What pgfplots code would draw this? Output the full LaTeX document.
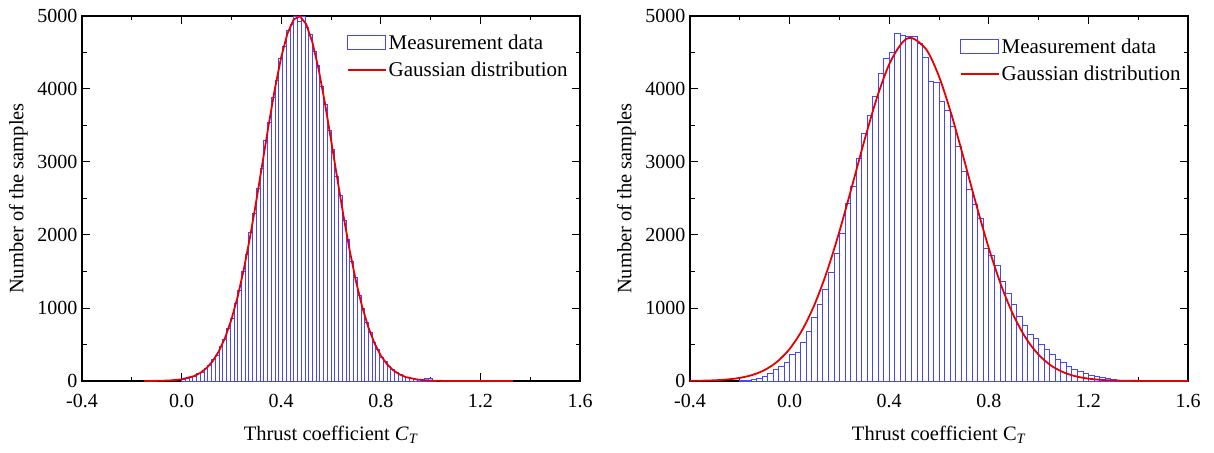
\documentclass[border=0pt]{standalone}
\usepackage{fontspec}
\setmainfont{Liberation Serif}
\usepackage{pgfplots}
\pgfplotsset{compat=1.18}
\definecolor{barblue}{RGB}{70,70,255}
\definecolor{curvered}{RGB}{230,0,0}
\pgfplotsset{
  myaxis/.style={
    scale only axis, width=498pt, height=365pt,
    xmin=-0.4, xmax=1.6, ymin=0, ymax=5000,
    xtick={-0.4,0,0.4,0.8,1.2,1.6},
    xticklabels={-0.4,0.0,0.4,0.8,1.2,1.6},
    minor xtick={-0.2,0.2,0.6,1.0,1.4},
    ytick={0,1000,2000,3000,4000,5000},
    yticklabels={0,1000,2000,3000,4000,5000},
    minor ytick={500,1500,2500,3500,4500},
    tick align=inside, xtick pos=both, ytick pos=both,
    major tick length=8pt, minor tick length=4.5pt,
    every tick/.style={black, line width=1pt},
    axis line style={line width=1.2pt},
    tick label style={font=\fontsize{20}{24}\selectfont},
    xticklabel style={yshift=-10pt},
    yticklabel style={xshift=-1pt},
    ylabel={Number of the samples},
    every axis y label/.style={at={(axis description cs:-0.128,0.5)}, rotate=90, anchor=center, font=\fontsize{20.5}{24}\selectfont},
    every axis x label/.style={at={(axis description cs:0.5,-0.148)}, anchor=center, font=\fontsize{20.5}{24}\selectfont},
    legend style={draw=none, fill=none, font=\fontsize{21}{25}\selectfont, anchor=north west, row sep=7pt},
    legend cell align=left,
  },
  boxlegend/.style={legend image code/.code={\draw[##1] (0pt,-7pt) rectangle (38pt,7pt);}},
  linelegend/.style={legend image code/.code={\draw[##1] (0pt,0pt) -- (38pt,0pt);}},
}
\begin{document}
\begin{tikzpicture}
\useasboundingbox (0,0) rectangle (1214pt,452pt);
% ---------------- left panel ----------------
\begin{axis}[myaxis, at={(82pt,71pt)}, anchor=south west,
  xlabel={Thrust coefficient \textit{C}\textsubscript{\textit{T}}},
  legend style={at={(axis description cs:0.525,0.96)}}]
\addlegendimage{boxlegend, draw=barblue, fill=white, line width=1.2pt}
\addlegendentry{Measurement data}
\addlegendimage{linelegend, draw=curvered, line width=2pt}
\addlegendentry{Gaussian distribution}
\addplot[ybar interval, draw=barblue, fill=white, line width=0.7pt, forget plot] coordinates {
(0.000,20) (0.015,35) (0.030,55) (0.045,68) (0.060,98) (0.075,124) (0.090,172) (0.105,215)
(0.120,290) (0.135,356) (0.150,468) (0.165,566) (0.180,722) (0.195,858) (0.210,1068) (0.225,1246)
(0.240,1505) (0.255,1730) (0.270,2040) (0.285,2295) (0.300,2640) (0.315,2915) (0.330,3290) (0.345,3540)
(0.360,3890) (0.375,4120) (0.390,4420) (0.405,4590) (0.420,4800) (0.435,4890) (0.450,5000) (0.465,4930)
(0.480,4990) (0.495,4850) (0.510,4750) (0.525,4520) (0.540,4330) (0.555,4030) (0.570,3790) (0.585,3440)
(0.600,3170) (0.615,2810) (0.630,2540) (0.645,2195) (0.660,1945) (0.675,1640) (0.690,1425) (0.705,1175)
(0.720,998) (0.735,805) (0.750,672) (0.765,528) (0.780,432) (0.795,330) (0.810,266) (0.825,196)
(0.840,157) (0.855,112) (0.870,90) (0.885,62) (0.900,48) (0.915,33) (0.930,26) (0.945,18)
(0.960,14) (0.975,35) (0.990,30) (1.005,10) (1.020,0)
};
\addplot[curvered, line width=1.8pt, forget plot] coordinates {
(-0.15,0.4) (-0.10,1.8) (-0.05,6.7) (0.00,22.5) (0.05,67) (0.075,110) (0.10,176) (0.125,272)
(0.15,409) (0.175,596) (0.20,841) (0.225,1152) (0.25,1531) (0.275,1974) (0.30,2467) (0.325,2990)
(0.35,3516) (0.375,4010) (0.40,4435) (0.425,4758) (0.45,4951) (0.475,4997) (0.50,4891) (0.525,4643)
(0.55,4275) (0.575,3818) (0.60,3307) (0.625,2779) (0.65,2264) (0.675,1789) (0.70,1371) (0.725,1020)
(0.75,735) (0.775,514) (0.80,349) (0.825,229) (0.85,146) (0.875,91) (0.90,54) (0.95,17.9)
(1.00,5.2) (1.05,1.3) (1.10,0.3) (1.20,0) (1.33,0)
};
\end{axis}
% ---------------- right panel ----------------
\begin{axis}[myaxis, at={(690pt,71pt)}, anchor=south west,
  xlabel={Thrust coefficient C\textsubscript{\textit{T}}},
  legend style={at={(axis description cs:0.535,0.95)}}]
\addlegendimage{boxlegend, draw=barblue, fill=white, line width=1.2pt}
\addlegendentry{Measurement data}
\addlegendimage{linelegend, draw=curvered, line width=2pt}
\addlegendentry{Gaussian distribution}
\addplot[ybar interval, draw=barblue, fill=white, line width=0.7pt, forget plot] coordinates {
(-0.2000,10) (-0.1778,15) (-0.1556,25) (-0.1333,40) (-0.1111,60) (-0.0889,110) (-0.0667,160) (-0.0444,200)
(-0.0222,260) (0.0000,365) (0.0222,390) (0.0444,533) (0.0667,683) (0.0889,866) (0.1111,1044) (0.1333,1262)
(0.1556,1489) (0.1778,1744) (0.2000,2027) (0.2222,2437) (0.2444,2664) (0.2667,3051) (0.2889,3393) (0.3111,3643)
(0.3333,3903) (0.3556,4213) (0.3778,4418) (0.4000,4508) (0.4222,4759) (0.4444,4736) (0.4667,4722) (0.4889,4722)
(0.5111,4631) (0.5333,4440) (0.5556,4098) (0.5778,4085) (0.6000,3825) (0.6222,3711) (0.6444,3483) (0.6667,3210)
(0.6889,2869) (0.7111,2619) (0.7333,2414) (0.7556,2232) (0.7778,1822) (0.8000,1717) (0.8222,1580) (0.8444,1366)
(0.8667,1207) (0.8889,1050) (0.9111,890) (0.9333,760) (0.9556,640) (0.9778,590) (1.0000,500) (1.0222,440)
(1.0444,370) (1.0667,300) (1.0889,250) (1.1111,200) (1.1333,160) (1.1556,130) (1.1778,110) (1.2000,80)
(1.2222,60) (1.2444,45) (1.2667,30) (1.2889,22) (1.3111,15) (1.3333,10) (1.3556,5) (1.3778,0)
};
\addplot[curvered, line width=1.8pt, smooth, forget plot] coordinates {
(-0.40,1.9) (-0.35,4.4) (-0.30,9.9) (-0.25,21.1) (-0.20,42.7) (-0.15,82.3) (-0.10,151) (-0.05,264)
(0.00,439) (0.05,695) (0.10,1046) (0.15,1500) (0.20,2048) (0.25,2661) (0.30,3290) (0.35,3873)
(0.40,4339) (0.45,4626) (0.49,4700) (0.55,4536) (0.60,4171) (0.65,3650) (0.70,3040) (0.75,2411)
(0.80,1819) (0.85,1307) (0.90,893) (0.95,581) (1.00,360) (1.05,212) (1.10,119) (1.15,63.6)
(1.20,32.4) (1.25,15.7) (1.30,7.2) (1.35,3.2) (1.40,1.3) (1.45,0.5) (1.50,0.2) (1.60,0)
};
\end{axis}
\end{tikzpicture}
\end{document}
